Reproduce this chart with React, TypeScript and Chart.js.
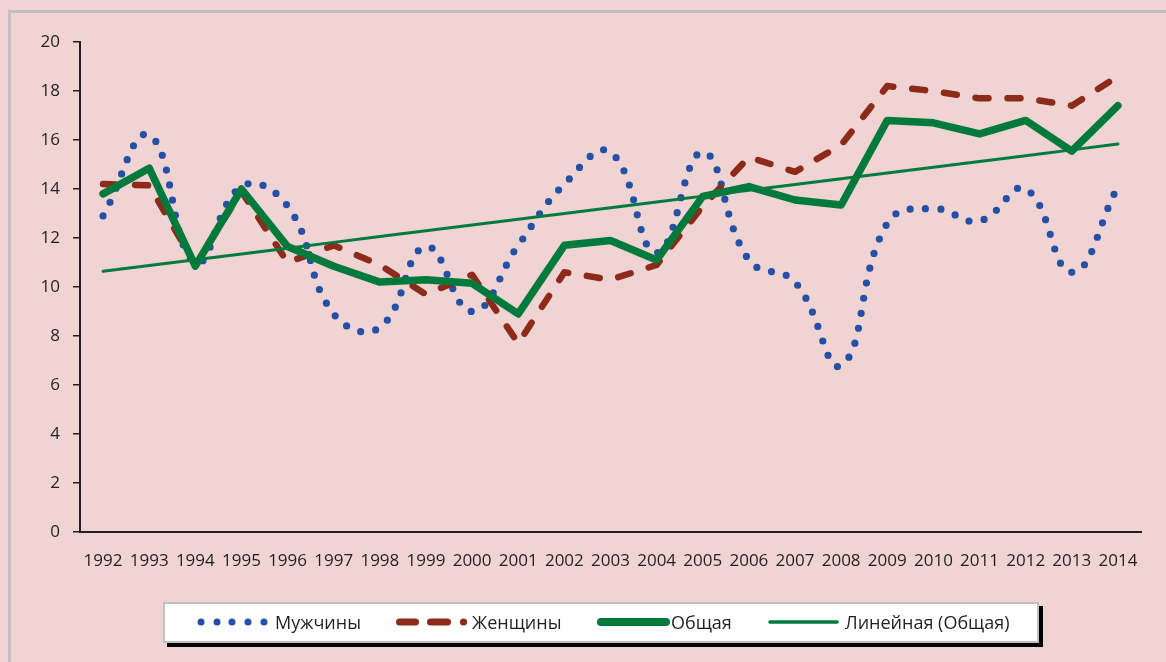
import React, { useEffect, useRef } from "react";
import { Chart, registerables } from "chart.js";

Chart.register(...registerables);

const years = ["1992", "1993", "1994", "1995", "1996", "1997", "1998", "1999", "2000", "2001", "2002", "2003", "2004", "2005", "2006", "2007", "2008", "2009", "2010", "2011", "2012", "2013", "2014"];
const men = [12.9, 16.2, 11.0, 14.1, 13.3, 8.9, 8.35, 11.65, 9.0, 11.7, 14.2, 15.5, 11.4, 15.5, 11.1, 10.2, 6.8, 12.6, 13.2, 12.7, 14.0, 10.6, 14.1];
const women = [14.2, 14.15, 10.9, 13.9, 11.0, 11.7, 10.9, 9.7, 10.5, 7.7, 10.6, 10.3, 10.9, 13.3, 15.3, 14.7, 15.8, 18.2, 18.0, 17.7, 17.7, 17.4, 18.6];
const total = [13.8, 14.85, 10.85, 14.0, 11.65, 10.85, 10.2, 10.3, 10.15, 8.9, 11.7, 11.9, 11.1, 13.7, 14.1, 13.55, 13.35, 16.8, 16.7, 16.25, 16.8, 15.55, 17.4];
const yTicks = [0, 2, 4, 6, 8, 10, 12, 14, 16, 18, 20];
const seriesNames = ["Мужчины", "Женщины", "Общая", "Линейная (Общая)"];

// Linear trendline (least squares) of the "Общая" series, as Excel computes it
function linearTrend(values: number[]): number[] {
  const n = values.length;
  let sx = 0, sy = 0, sxy = 0, sxx = 0;
  values.forEach((v, i) => {
    sx += i; sy += v; sxy += i * v; sxx += i * i;
  });
  const slope = (n * sxy - sx * sy) / (n * sxx - sx * sx);
  const intercept = (sy - slope * sx) / n;
  return values.map((_, i) => intercept + slope * i);
}

const BLUE = "#2450A6";
const RED = "#8E2A1A";
const GREEN = "#007A3C";
const BG = "#F0D3D3";
const AXIS = "#231F20";
const FONT = "'Open Sans', 'DejaVu Sans', sans-serif";

export default function App() {
  const ref = useRef<HTMLCanvasElement | null>(null);

  useEffect(() => {
    document.body.style.margin = "0";
    if (!ref.current) return;
    const chart = new Chart(ref.current, {
      type: "line",
      data: {
        labels: years,
        datasets: [
          {
            label: seriesNames[0],
            data: men,
            borderColor: BLUE,
            borderWidth: 7.2,
            borderDash: [0, 15.3],
            borderCapStyle: "round",
            tension: 0.45,
            pointRadius: 0,
            fill: false,
            order: 4,
          },
          {
            label: seriesNames[1],
            data: women,
            borderColor: RED,
            borderWidth: 6.5,
            borderDash: [13, 19],
            borderCapStyle: "round",
            borderJoinStyle: "round",
            tension: 0,
            pointRadius: 0,
            fill: false,
            order: 3,
          },
          {
            label: seriesNames[2],
            data: total,
            borderColor: GREEN,
            borderWidth: 7.5,
            borderCapStyle: "round",
            borderJoinStyle: "round",
            tension: 0,
            pointRadius: 0,
            fill: false,
            order: 2,
          },
          {
            label: seriesNames[3],
            data: linearTrend(total),
            borderColor: GREEN,
            borderWidth: 3,
            borderCapStyle: "round",
            tension: 0,
            pointRadius: 0,
            fill: false,
            order: 1,
          },
        ],
      },
      options: {
        responsive: false,
        animation: false,
        devicePixelRatio: 1,
        layout: { padding: { top: 42, right: 25, left: 0, bottom: 0 } },
        plugins: { legend: { display: false }, tooltip: { enabled: false } },
        scales: {
          x: {
            type: "category",
            offset: true,
            grid: { display: true, drawOnChartArea: false, drawTicks: false },
            border: { display: true, color: AXIS, width: 2 },
            ticks: {
              color: AXIS,
              font: { family: FONT, size: 17 },
              padding: 19,
              maxRotation: 0,
              autoSkip: false,
            },
            afterFit: (s: any) => { s.height = 130; },
          },
          y: {
            min: 0,
            max: 20,
            afterBuildTicks: (s: any) => { s.ticks = yTicks.map((v) => ({ value: v })); },
            grid: { display: true, drawOnChartArea: false, drawTicks: true, tickLength: 7, color: AXIS, lineWidth: 1.5 },
            border: { display: true, color: AXIS, width: 2 },
            ticks: {
              color: AXIS,
              font: { family: FONT, size: 17 },
              padding: 13,
            },
            afterFit: (s: any) => { s.width = 80; },
          },
        },
      },
    });
    return () => chart.destroy();
  }, []);

  const textStyle: React.CSSProperties = {
    position: "absolute",
    top: 622,
    transform: "translateY(-50%)",
    fontFamily: FONT,
    fontSize: 18,
    color: AXIS,
    whiteSpace: "nowrap",
    lineHeight: 1,
  };

  return (
    <div style={{ position: "fixed", left: 0, top: 0, width: 1166, height: 662, background: BG, overflow: "hidden" }}>
      <div style={{ position: "absolute", left: 8, top: 10, width: 1200, height: 700, borderLeft: "3px solid #C3BFC0", borderTop: "3px solid #C3BFC0" }} />
      <canvas ref={ref} width={1166} height={662} style={{ position: "absolute", left: 0, top: 0, width: 1166, height: 662 }} />
      <div style={{ position: "absolute", left: 163, top: 602, width: 872, height: 37, background: "#FFFFFF", border: "2px solid #C3BFC0", boxShadow: "4px 4px 0 #000" }} />
      <svg width={1166} height={662} style={{ position: "absolute", left: 0, top: 0, pointerEvents: "none" }}>
        {[201, 217, 232, 248, 264].map((cx) => (
          <circle key={cx} cx={cx} cy={622} r={3.5} fill={BLUE} />
        ))}
        <line x1={399.5} y1={622} x2={415.5} y2={622} stroke={RED} strokeWidth={7} strokeLinecap="round" />
        <line x1={430.5} y1={622} x2={447.5} y2={622} stroke={RED} strokeWidth={7} strokeLinecap="round" />
        <circle cx={463.5} cy={622} r={3.6} fill={RED} />
        <line x1={601} y1={622} x2={666} y2={622} stroke={GREEN} strokeWidth={8} strokeLinecap="round" />
        <line x1={770} y1={622} x2={837} y2={622} stroke={GREEN} strokeWidth={3.5} strokeLinecap="round" />
      </svg>
      <span style={{ ...textStyle, left: 275 }}>{seriesNames[0]}</span>
      <span style={{ ...textStyle, left: 472 }}>{seriesNames[1]}</span>
      <span style={{ ...textStyle, left: 671 }}>{seriesNames[2]}</span>
      <span style={{ ...textStyle, left: 845 }}>{seriesNames[3]}</span>
    </div>
  );
}
